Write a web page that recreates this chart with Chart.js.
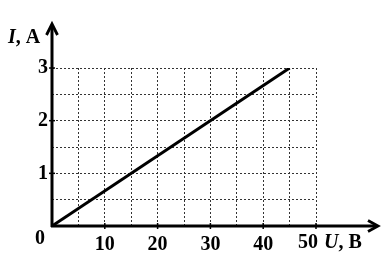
<!DOCTYPE html>
<html><head><meta charset="utf-8">
<script src="https://cdn.jsdelivr.net/npm/chart.js@4/dist/chart.umd.min.js"></script>
<style>html,body{margin:0;padding:0;background:#fff;}#wrap{width:391px;height:264px;}</style>
</head><body><div id="wrap"><canvas id="c" width="391" height="264"></canvas></div>
<script>
const voltage = [0, 45];          // U, В
const current = [0, 3];           // I, A
const xLabels = [10, 20, 30, 40, 50];
const yLabels = [1, 2, 3];
const xTitle = ['U', ', В'];
const yTitle = ['I', ', A'];

const FONT = 'Liberation Serif';
const fontSpec = {family: FONT, size: 20, weight: 'bold'};

const axesPlugin = {
  id: 'axes',
  afterDraw(chart) {
    const ctx = chart.ctx, xs = chart.scales.x, ys = chart.scales.y;
    const x0 = xs.getPixelForValue(0), y0 = ys.getPixelForValue(0);
    ctx.save();
    ctx.strokeStyle = '#000'; ctx.fillStyle = '#000';
    ctx.lineWidth = 3; ctx.lineCap = 'butt';
    ctx.beginPath(); ctx.moveTo(x0 - 1, y0); ctx.lineTo(376, y0); ctx.stroke();
    ctx.beginPath(); ctx.moveTo(x0, y0 + 1); ctx.lineTo(x0, 26); ctx.stroke();
    ctx.lineWidth = 2.8; ctx.lineJoin = 'miter';
    ctx.beginPath(); ctx.moveTo(368, y0 - 5.5); ctx.lineTo(378, y0); ctx.lineTo(368, y0 + 5.5); ctx.stroke();
    ctx.beginPath(); ctx.moveTo(x0 - 5.5, 35); ctx.lineTo(x0, 24); ctx.lineTo(x0 + 5.5, 35); ctx.stroke();
    ctx.lineWidth = 1.5;
    xLabels.forEach(v => { const p = xs.getPixelForValue(v); ctx.beginPath(); ctx.moveTo(p, y0 - 3); ctx.lineTo(p, y0 + 3); ctx.stroke(); });
    yLabels.forEach(v => { const p = ys.getPixelForValue(v); ctx.beginPath(); ctx.moveTo(x0 - 3, p); ctx.lineTo(x0 + 3, p); ctx.stroke(); });
    ctx.font = 'bold 20px "' + FONT + '"';
    ctx.textBaseline = 'middle'; ctx.textAlign = 'center';
    ctx.fillText('0', x0 - 12, y0 + 13);
    ctx.fillText(String(xLabels[xLabels.length - 1]), xs.getPixelForValue(50) - 8, y0 + 17);
    ctx.textAlign = 'left';
    let x = 324;
    ctx.font = 'italic bold 20px "' + FONT + '"'; ctx.fillText(xTitle[0], x, y0 + 17);
    x += ctx.measureText(xTitle[0]).width;
    ctx.font = 'bold 20px "' + FONT + '"'; ctx.fillText(xTitle[1], x, y0 + 17);
    x = 8;
    ctx.font = 'italic bold 20px "' + FONT + '"'; ctx.fillText(yTitle[0], x, 38);
    x += ctx.measureText(yTitle[0]).width;
    ctx.font = 'bold 20px "' + FONT + '"'; ctx.fillText(yTitle[1], x, 38);
    ctx.restore();
  }
};

new Chart(document.getElementById('c'), {
  type: 'scatter',
  data: {
    datasets: [{
      data: voltage.map((u, i) => ({x: u, y: current[i]})),
      showLine: true, borderColor: '#000', borderWidth: 3, pointRadius: 0, fill: false, tension: 0
    }]
  },
  options: {
    responsive: false, animation: false, devicePixelRatio: 1,
    layout: {padding: {top: 68, right: 75, left: 0, bottom: 0}},
    plugins: {legend: {display: false}, tooltip: {enabled: false}},
    scales: {
      x: {
        type: 'linear', min: 0, max: 50,
        ticks: {stepSize: 5, padding: 7, color: '#000', font: fontSpec, maxRotation: 0, autoSkip: false,
          callback: v => (xLabels.includes(v) && v !== 50) ? String(v) : ''},
        grid: {color: '#333', lineWidth: 1, drawTicks: false},
        border: {display: false, dash: [2, 2]},
        afterFit: s => { s.height = 38; }
      },
      y: {
        type: 'linear', min: 0, max: 3,
        ticks: {stepSize: 0.5, padding: 4, color: '#000', font: fontSpec, autoSkip: false,
          callback: v => yLabels.includes(v) ? String(v) : ''},
        grid: {color: '#333', lineWidth: 1, drawTicks: false},
        border: {display: false, dash: [2, 2]},
        afterFit: s => { s.width = 52; }
      }
    }
  },
  plugins: [axesPlugin]
});
</script></body></html>
